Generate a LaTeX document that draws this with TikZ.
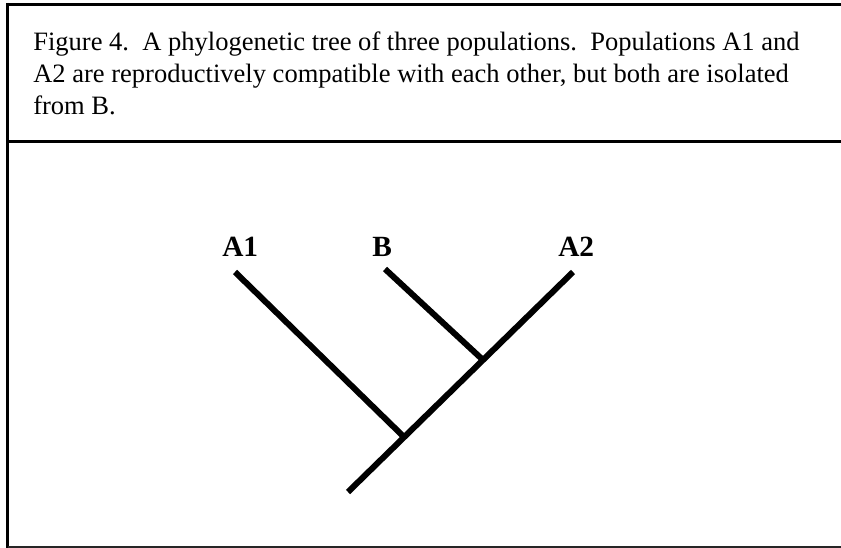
\documentclass[tikz,border=0pt]{standalone}
\usepackage{fontspec}
\setmainfont{Liberation Serif}
\begin{document}
\begin{tikzpicture}[x=0.75pt,y=-0.75pt,
  frameline/.style={line width=2.4pt,black},
  thinframe/.style={line width=1.5pt,black!85},
  branch/.style={line width=4.5pt,black},
  caption/.style={anchor=base west,inner sep=0pt,font=\fontsize{19.9}{24}\selectfont},
  taxon/.style={anchor=base west,inner sep=0pt,font=\fontsize{22}{24}\selectfont\bfseries}]
\useasboundingbox (0,0) rectangle (841,548);
% frame
\coordinate (tl) at (7.5,3);
\coordinate (bl) at (7.5,548);
\coordinate (tt) at (6,4.5);
\coordinate (tr) at (841,4.5);
\coordinate (sl) at (7.5,141.5);
\coordinate (sr) at (841,141.5);
\coordinate (bbl) at (7.5,547);
\coordinate (bbr) at (841,547);
\draw[frameline] (tl) -- (bl);
\draw[frameline] (tt) -- (tr);
\draw[frameline] (sl) -- (sr);
\draw[thinframe] (bbl) -- (bbr);
% caption
\node[caption] (cap1) at (33,51) {Figure 4.\ \ A phylogenetic tree of three populations.\ \ Populations A1 and};
\node[caption] (cap2) at (33,83) {A2 are reproductively compatible with each other, but both are isolated};
\node[caption] (cap3) at (33,115) {from B.};
% taxa labels
\node[taxon] (lA1) at (222,257) {A1};
\node[taxon] (lB) at (372,257) {B};
\node[taxon] (lA2) at (558,257) {A2};
% tree
\coordinate (A1tip) at (235,272);
\coordinate (Btip) at (385,269);
\coordinate (A2tip) at (573,272);
\coordinate (root) at (348,492);
\coordinate (j1) at (404,437);
\coordinate (j2) at (483,360);
\draw[branch] (root) -- (A2tip);
\draw[branch] (A1tip) -- (j1);
\draw[branch] (Btip) -- (j2);
\end{tikzpicture}
\end{document}
